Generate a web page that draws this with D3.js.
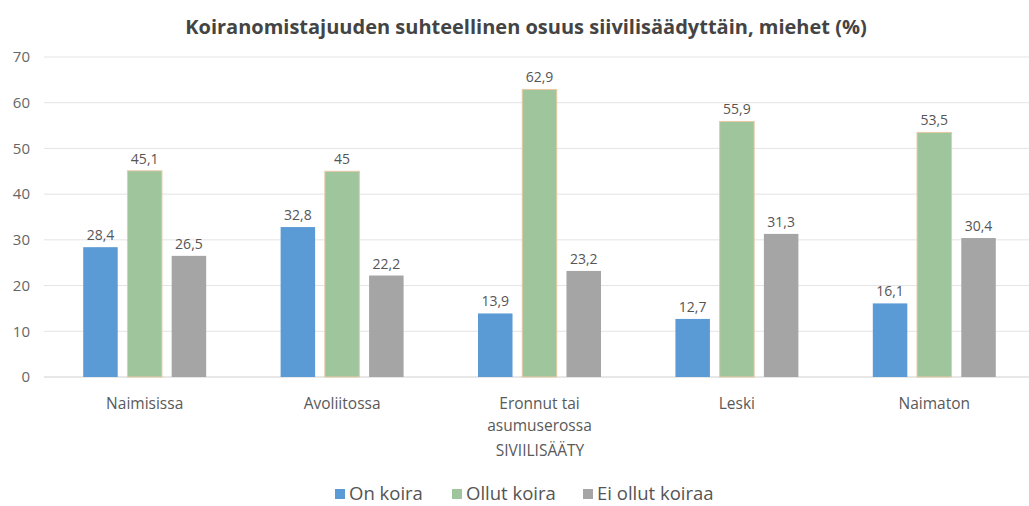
<!DOCTYPE html>
<html>
<head>
<meta charset="utf-8">
<script src="https://cdn.jsdelivr.net/npm/d3@7"></script>
<style>
body { margin: 0; background: #fff; }
text { font-family: "Open Sans", "DejaVu Sans", sans-serif; }
</style>
</head>
<body>
<script>
var categories = ['Naimisissa', 'Avoliitossa', 'Eronnut tai asumuserossa', 'Leski', 'Naimaton'];
var catLines = [['Naimisissa'], ['Avoliitossa'], ['Eronnut tai', 'asumuserossa'], ['Leski'], ['Naimaton']];
var seriesNames = ['On koira', 'Ollut koira', 'Ei ollut koiraa'];
var onKoira = [28.4, 32.8, 13.9, 12.7, 16.1];
var ollutKoira = [45.1, 45, 62.9, 55.9, 53.5];
var eiOllut = [26.5, 22.2, 23.2, 31.3, 30.4];
var yTicks = [0, 10, 20, 30, 40, 50, 60, 70];

var seriesData = [onKoira, ollutKoira, eiOllut];
var colors = ['#5b9bd5', '#9fc59c', '#a5a5a5'];
var strokes = ['none', '#e9c9a3', 'none'];

var W = 1029, H = 506;
var svg = d3.select("body").append("svg").attr("width", W).attr("height", H);

var x = d3.scaleBand()
        .domain(categories)
        .range([46, 1033])
        .paddingInner(0.377)
        .paddingOuter(0.1885);

var xs = d3.scaleBand()
        .domain(seriesNames)
        .range([0, x.bandwidth()])
        .paddingInner(0.22);

var y = d3.scaleLinear()
        .domain([0, 70])
        .range([377, 57]);

// title
svg.append("text")
        .attr("x", 526)
        .attr("y", 34)
        .attr("text-anchor", "middle")
        .attr("font-size", "20")
        .attr("font-weight", "bold")
        .attr("fill", "#444")
        .text("Koiranomistajuuden suhteellinen osuus siivilisäädyttäin, miehet (%)");

// grid lines
svg.selectAll("line.grid")
    .data(yTicks)
    .enter().append("line")
            .attr("class", "grid")
            .attr("x1", 44)
            .attr("x2", W)
            .attr("y1", function(d){ return y(d); })
            .attr("y2", function(d){ return y(d); })
            .attr("stroke", function(d){ return d === 0 ? "#d0d0d0" : "#e4e4e4"; })
            .attr("stroke-width", 1);

// y axis labels
var yAxis = d3.axisLeft(y).tickValues(yTicks).tickSize(0).tickPadding(0);
var gy = svg.append("g")
        .attr("transform", "translate(30,0)")
        .call(yAxis);
gy.select(".domain").remove();
gy.selectAll("text")
        .attr("font-size", "15")
        .attr("fill", "#666")
        .style("font-family", "'Open Sans', sans-serif");

// bars
var groups = svg.selectAll("g.cat")
    .data(categories)
    .enter().append("g")
            .attr("class", "cat")
            .attr("transform", function(d){ return "translate(" + x(d) + ",0)"; });

groups.selectAll("rect")
    .data(function(d, i){ return seriesData.map(function(s, j){ return {s: j, v: s[i]}; }); })
    .enter().append("rect")
            .attr("x", function(d){ return xs(seriesNames[d.s]); })
            .attr("y", function(d){ return y(d.v); })
            .attr("width", xs.bandwidth())
            .attr("height", function(d){ return y(0) - y(d.v); })
            .attr("fill", function(d){ return colors[d.s]; })
            .attr("stroke", function(d){ return strokes[d.s]; })
            .attr("stroke-width", 1);

groups.selectAll("text.val")
    .data(function(d, i){ return seriesData.map(function(s, j){ return {s: j, v: s[i]}; }); })
    .enter().append("text")
            .attr("class", "val")
            .attr("x", function(d){ return xs(seriesNames[d.s]) + xs.bandwidth() / 2; })
            .attr("y", function(d){ return y(d.v) - 7; })
            .attr("text-anchor", "middle")
            .attr("font-size", "14")
            .attr("fill", "#555")
            .text(function(d){ return String(d.v).replace(".", ","); });

// category labels
var xAxisG = svg.append("g");
xAxisG.selectAll("text.catlab")
    .data(categories)
    .enter().append("text")
            .attr("class", "catlab")
            .attr("x", function(d){ return x(d) + x.bandwidth() / 2; })
            .attr("y", 409)
            .attr("text-anchor", "middle")
            .attr("font-size", "15.5")
            .attr("fill", "#595959")
            .selectAll("tspan")
            .data(function(d, i){ return catLines[i]; })
            .enter().append("tspan")
                    .attr("x", function(){ var c = d3.select(this.parentNode).datum(); return x(c) + x.bandwidth() / 2; })
                    .attr("dy", function(d, i){ return i === 0 ? 0 : 22; })
                    .text(function(d){ return d; });

// axis title
svg.append("text")
        .attr("x", 540)
        .attr("y", 456)
        .attr("text-anchor", "middle")
        .attr("font-size", "15.5")
        .attr("fill", "#595959")
        .text("SIVIILISÄÄTY");

// legend
var legendX = [335, 452, 583];
var legend = svg.selectAll("g.legend")
    .data(seriesNames)
    .enter().append("g")
            .attr("class", "legend")
            .attr("transform", function(d, i){ return "translate(" + legendX[i] + ",489)"; });
legend.append("rect")
        .attr("width", 10)
        .attr("height", 10)
        .attr("fill", function(d, i){ return colors[i]; });
legend.append("text")
        .attr("x", 14)
        .attr("y", 11)
        .attr("font-size", "18.5")
        .attr("fill", "#555")
        .text(function(d){ return d; });
</script>
</body>
</html>
